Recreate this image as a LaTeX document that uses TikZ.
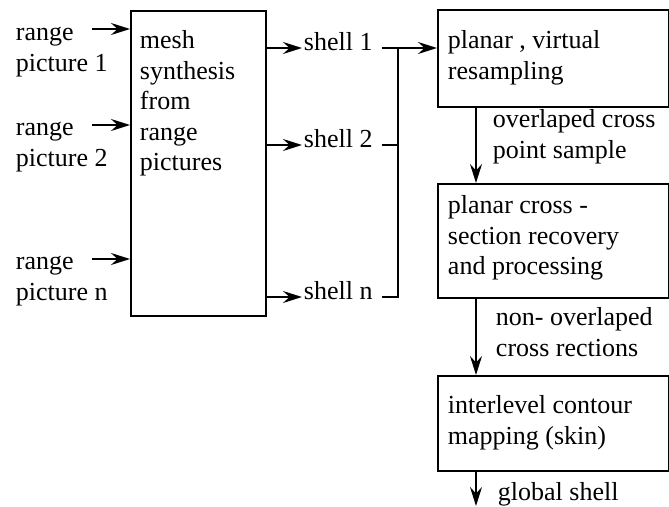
\documentclass[tikz,border=0pt]{standalone}
\usepackage{fontspec}
\setmainfont{Liberation Serif}
\usetikzlibrary{arrows.meta}

\begin{document}
\begin{tikzpicture} [x=1pt,y=-1pt,line width=1.9pt,
    arr/.style={-{Stealth[length=19pt,width=12pt,inset=6.5pt]}},
    box/.style={draw,rectangle,inner sep=0pt,anchor=north west},
    txt/.style={font=\fontsize{26}{30.5}\selectfont,align=left,inner sep=0pt,
      anchor=north west,yshift=21.35pt},
    shl/.style={font=\fontsize{26}{30.5}\selectfont,inner xsep=1pt,inner ysep=0pt,anchor=mid west}]
    \useasboundingbox (0,0) rectangle (669,506);

    % range pictures and mesh synthesis %
    \node [box,minimum width=135,minimum height=305] (mesh) at (130,10) {};
    \node [txt] (meshT) at (139,48) {\strut mesh\\synthesis\\from\\range\\pictures};
    \node [txt] (rp1) at (15,40) {\strut range\\picture 1};
    \node [txt] (rp2) at (15,135) {\strut range\\picture 2};
    \node [txt] (rpn) at (15,269) {\strut range\\picture n};
    \coordinate (in1) at (92,29);
    \coordinate (in2) at (92,125);
    \coordinate (inn) at (92,259);
    \draw [arr] (in1) -- (in1 -| mesh.west);
    \draw [arr] (in2) -- (in2 -| mesh.west);
    \draw [arr] (inn) -- (inn -| mesh.west);

    % shells %
    \node [shl] (s1) at (302,48) {shell 1};
    \node [shl] (s2) at (302,145) {shell 2};
    \node [shl] (sn) at (302,297) {shell n};
    \draw [arr] (mesh.east |- s1.mid west) -- (s1.mid west);
    \draw [arr] (mesh.east |- s2.mid west) -- (s2.mid west);
    \draw [arr] (mesh.east |- sn.mid west) -- (sn.mid west);
    \coordinate (bus1) at (398,48);
    \coordinate (busn) at (398,297);
    \draw ([xshift=7pt]s1.mid east) -- (bus1) -- (busn) -- ([xshift=7pt]sn.mid east);
    \draw ([xshift=7pt]s2.mid east) -- (bus1 |- s2.mid east);

    % processing chain %
    \node [box,minimum width=231,minimum height=97] (resamp) at (437,9) {};
    \node [txt] (resampT) at (447,48) {\strut planar , virtual\\resampling};
    \node [box,minimum width=231,minimum height=114] (cross) at (437,183) {};
    \node [txt] (crossT) at (447,213) {\strut planar cross -\\section recovery\\and processing};
    \node [box,minimum width=231,minimum height=95] (skin) at (437,375) {};
    \node [txt] (skinT) at (447,413) {\strut interlevel contour\\mapping (skin)};
    \draw [arr] (bus1) -- (bus1 -| resamp.west);
    \draw [arr] ([xshift=39pt]resamp.south west) -- ([xshift=39pt]cross.north west);
    \draw [arr] ([xshift=39pt]cross.south west) -- ([xshift=39pt]skin.north west);
    \coordinate (out) at (476,506);
    \draw [arr] ([xshift=39pt]skin.south west) -- (out);
    \node [txt] (ovl) at (492,127) {\strut overlaped cross\\point sample};
    \node [txt] (novl) at (495,325) {\strut non- overlaped\\cross rections};
    \node [txt] (glob) at (497,500) {\strut global shell};
  \end{tikzpicture}
\end{document}
